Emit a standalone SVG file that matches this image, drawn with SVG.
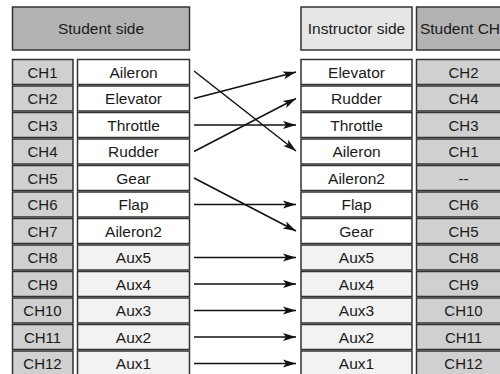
<svg xmlns="http://www.w3.org/2000/svg" width="500" height="374" viewBox="0 0 500 374">
<style>
rect{stroke:#333;stroke-width:1.5}
.h1{fill:#b3b3b3}.h2{fill:#e6e6e6}.ch{fill:#d0d0d0}.w{fill:#fff}.a{fill:#f2f2f2}
text{font-family:"Liberation Sans",Arial,sans-serif;font-size:15.5px;fill:#1a1a1a;text-anchor:middle}
text.n{font-size:15px}
.c line{stroke:#111;stroke-width:1.5;marker-end:url(#ar)}
</style>
<defs>
<marker id="ar" markerUnits="userSpaceOnUse" markerWidth="14" markerHeight="10" refX="13" refY="5" orient="auto">
<path d="M0,1 L13,5 L0,9 L3,5 z" fill="#111"/>
</marker>
</defs>
<rect width="500" height="374" fill="#fff" style="stroke:none"/>
<g id="hdr-student"><rect class="h1" x="12.5" y="7" width="177" height="43"/><text x="101" y="34">Student side</text></g>
<g id="hdr-instructor"><rect class="h2" x="301" y="7" width="111" height="43"/><text x="356.5" y="34">Instructor side</text></g>
<g id="hdr-studentch"><rect class="h1" x="416.5" y="7" width="100" height="43"/><text x="460" y="34">Student CH</text></g>

<g id="s1"><rect class="ch" x="12.5" y="59.5" width="60.5" height="25"/><text class="n" x="42.5" y="77.5">CH1</text><rect class="w" x="77.5" y="59.5" width="112" height="25"/><text x="133.5" y="77.5">Aileron</text></g>
<g id="s2"><rect class="ch" x="12.5" y="86" width="60.5" height="25"/><text class="n" x="42.5" y="104">CH2</text><rect class="w" x="77.5" y="86" width="112" height="25"/><text x="133.5" y="104">Elevator</text></g>
<g id="s3"><rect class="ch" x="12.5" y="112.5" width="60.5" height="25"/><text class="n" x="42.5" y="130.5">CH3</text><rect class="w" x="77.5" y="112.5" width="112" height="25"/><text x="133.5" y="130.5">Throttle</text></g>
<g id="s4"><rect class="ch" x="12.5" y="139" width="60.5" height="25"/><text class="n" x="42.5" y="157">CH4</text><rect class="w" x="77.5" y="139" width="112" height="25"/><text x="133.5" y="157">Rudder</text></g>
<g id="s5"><rect class="ch" x="12.5" y="165.5" width="60.5" height="25"/><text class="n" x="42.5" y="183.5">CH5</text><rect class="w" x="77.5" y="165.5" width="112" height="25"/><text x="133.5" y="183.5">Gear</text></g>
<g id="s6"><rect class="ch" x="12.5" y="192" width="60.5" height="25"/><text class="n" x="42.5" y="210">CH6</text><rect class="w" x="77.5" y="192" width="112" height="25"/><text x="133.5" y="210">Flap</text></g>
<g id="s7"><rect class="ch" x="12.5" y="218.5" width="60.5" height="25"/><text class="n" x="42.5" y="236.5">CH7</text><rect class="w" x="77.5" y="218.5" width="112" height="25"/><text x="133.5" y="236.5">Aileron2</text></g>
<g id="s8"><rect class="ch" x="12.5" y="245" width="60.5" height="25"/><text class="n" x="42.5" y="263">CH8</text><rect class="a" x="77.5" y="245" width="112" height="25"/><text x="133.5" y="263">Aux5</text></g>
<g id="s9"><rect class="ch" x="12.5" y="271.5" width="60.5" height="25"/><text class="n" x="42.5" y="289.5">CH9</text><rect class="a" x="77.5" y="271.5" width="112" height="25"/><text x="133.5" y="289.5">Aux4</text></g>
<g id="s10"><rect class="ch" x="12.5" y="298" width="60.5" height="25"/><text class="n" x="42.5" y="316">CH10</text><rect class="a" x="77.5" y="298" width="112" height="25"/><text x="133.5" y="316">Aux3</text></g>
<g id="s11"><rect class="ch" x="12.5" y="324.5" width="60.5" height="25"/><text class="n" x="42.5" y="342.5">CH11</text><rect class="a" x="77.5" y="324.5" width="112" height="25"/><text x="133.5" y="342.5">Aux2</text></g>
<g id="s12"><rect class="ch" x="12.5" y="351" width="60.5" height="25"/><text class="n" x="42.5" y="369">CH12</text><rect class="a" x="77.5" y="351" width="112" height="25"/><text x="133.5" y="369">Aux1</text></g>

<g id="i1"><rect class="w" x="301" y="59.5" width="111" height="25"/><text x="356.5" y="77.5">Elevator</text><rect class="ch" x="416.5" y="59.5" width="100" height="25"/><text class="n" x="463.5" y="77.5">CH2</text></g>
<g id="i2"><rect class="w" x="301" y="86" width="111" height="25"/><text x="356.5" y="104">Rudder</text><rect class="ch" x="416.5" y="86" width="100" height="25"/><text class="n" x="463.5" y="104">CH4</text></g>
<g id="i3"><rect class="w" x="301" y="112.5" width="111" height="25"/><text x="356.5" y="130.5">Throttle</text><rect class="ch" x="416.5" y="112.5" width="100" height="25"/><text class="n" x="463.5" y="130.5">CH3</text></g>
<g id="i4"><rect class="w" x="301" y="139" width="111" height="25"/><text x="356.5" y="157">Aileron</text><rect class="ch" x="416.5" y="139" width="100" height="25"/><text class="n" x="463.5" y="157">CH1</text></g>
<g id="i5"><rect class="w" x="301" y="165.5" width="111" height="25"/><text x="356.5" y="183.5">Aileron2</text><rect class="ch" x="416.5" y="165.5" width="100" height="25"/><text class="n" x="463.5" y="183.5">--</text></g>
<g id="i6"><rect class="w" x="301" y="192" width="111" height="25"/><text x="356.5" y="210">Flap</text><rect class="ch" x="416.5" y="192" width="100" height="25"/><text class="n" x="463.5" y="210">CH6</text></g>
<g id="i7"><rect class="w" x="301" y="218.5" width="111" height="25"/><text x="356.5" y="236.5">Gear</text><rect class="ch" x="416.5" y="218.5" width="100" height="25"/><text class="n" x="463.5" y="236.5">CH5</text></g>
<g id="i8"><rect class="a" x="301" y="245" width="111" height="25"/><text x="356.5" y="263">Aux5</text><rect class="ch" x="416.5" y="245" width="100" height="25"/><text class="n" x="463.5" y="263">CH8</text></g>
<g id="i9"><rect class="a" x="301" y="271.5" width="111" height="25"/><text x="356.5" y="289.5">Aux4</text><rect class="ch" x="416.5" y="271.5" width="100" height="25"/><text class="n" x="463.5" y="289.5">CH9</text></g>
<g id="i10"><rect class="a" x="301" y="298" width="111" height="25"/><text x="356.5" y="316">Aux3</text><rect class="ch" x="416.5" y="298" width="100" height="25"/><text class="n" x="463.5" y="316">CH10</text></g>
<g id="i11"><rect class="a" x="301" y="324.5" width="111" height="25"/><text x="356.5" y="342.5">Aux2</text><rect class="ch" x="416.5" y="324.5" width="100" height="25"/><text class="n" x="463.5" y="342.5">CH11</text></g>
<g id="i12"><rect class="a" x="301" y="351" width="111" height="25"/><text x="356.5" y="369">Aux1</text><rect class="ch" x="416.5" y="351" width="100" height="25"/><text class="n" x="463.5" y="369">CH12</text></g>

<g class="c" id="connectors">
<line x1="194" y1="71" x2="296" y2="151"/>
<line x1="194" y1="98.5" x2="296" y2="72"/>
<line x1="194" y1="125" x2="296" y2="125"/>
<line x1="194" y1="151.5" x2="296" y2="98.5"/>
<line x1="194" y1="178" x2="296" y2="231"/>
<line x1="194" y1="204.5" x2="296" y2="204.5"/>
<line x1="194" y1="257.5" x2="296" y2="257.5"/>
<line x1="194" y1="284" x2="296" y2="284"/>
<line x1="194" y1="310.5" x2="296" y2="310.5"/>
<line x1="194" y1="337" x2="296" y2="337"/>
<line x1="194" y1="363.5" x2="296" y2="363.5"/>
</g>
</svg>
